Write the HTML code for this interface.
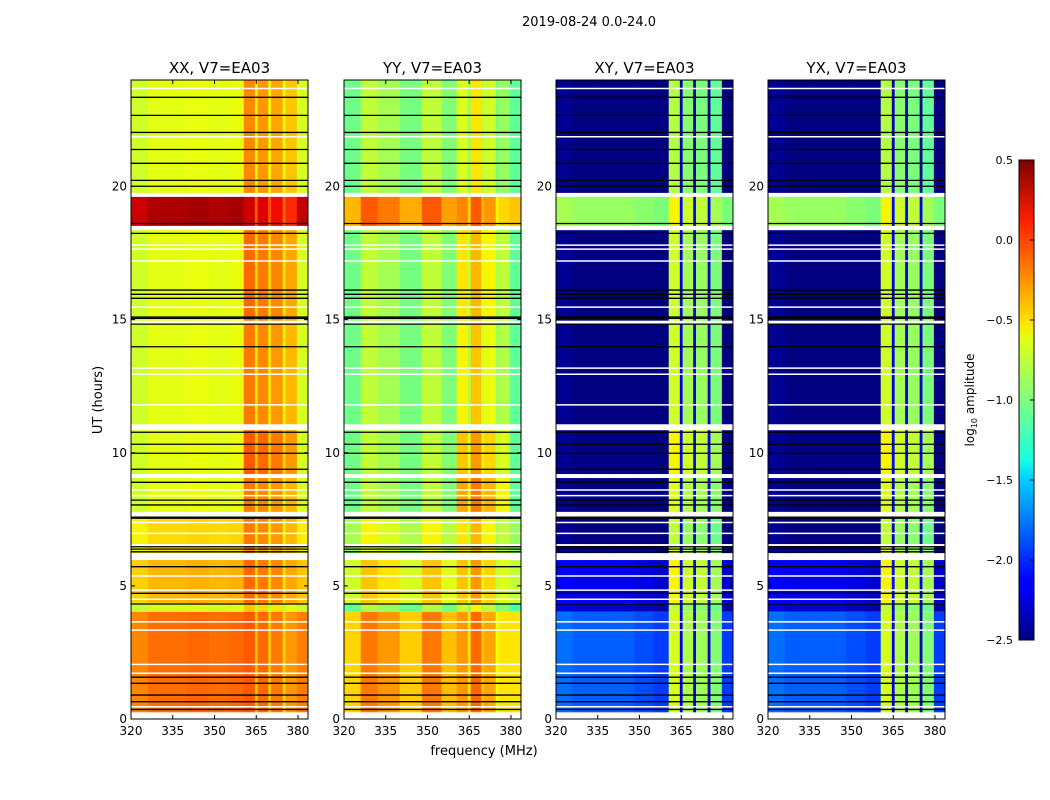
<!DOCTYPE html>
<html><head><meta charset="utf-8">
<style>
body{margin:0;background:#fff;}
svg{display:block;font-family:"DejaVu Sans","Liberation Sans",sans-serif;}
</style></head>
<body>
<svg id="fig" width="1050" height="800" viewBox="0 0 1050 800">
<defs>
<linearGradient id="jetgrad" x1="0" y1="1" x2="0" y2="0">
<stop offset="0" stop-color="#00007f"/><stop offset="0.11" stop-color="#0000ff"/>
<stop offset="0.125" stop-color="#0000ff"/><stop offset="0.34" stop-color="#00d4ff"/>
<stop offset="0.375" stop-color="#16ffe1"/><stop offset="0.5" stop-color="#7fff7f"/>
<stop offset="0.625" stop-color="#e1ff16"/><stop offset="0.66" stop-color="#ffe500"/>
<stop offset="0.875" stop-color="#ff1d00"/><stop offset="1" stop-color="#7f0000"/>
</linearGradient>
</defs>
<text x="589" y="26" font-size="13" text-anchor="middle">2019-08-24 0.0-24.0</text>
<text transform="translate(102,400) rotate(-90)" font-size="13" text-anchor="middle">UT (hours)</text>
<text x="484" y="755" font-size="13" text-anchor="middle">frequency (MHz)</text>
<g id="panels"></g>
<g>
<rect x="1019" y="160" width="15" height="480" fill="url(#jetgrad)" stroke="#000" stroke-width="1"/>
<g id="cbticks"></g>
<text transform="translate(974,400) rotate(-90)" font-size="12" text-anchor="middle">log<tspan font-size="8" dy="3">10</tspan><tspan dy="-3"> amplitude</tspan></text>
</g>
</svg>
<script>
// ---- data ----
const panelTitles = ["XX, V7=EA03","YY, V7=EA03","XY, V7=EA03","YX, V7=EA03"];
const freqEdges = [320,326,332,340,348,355,360.5,364.5,365.5,369.3,370.3,374.5,375.5,379.6,383.6];
const rfiBands = [6,7,8,9,10,11,12];
const segStart = [0.25,4.03,4.35,6.23,6.57,7.78,9.2,11.07,14.96,18.52,19.76];
const segEnd   = [4.03,4.35,5.97,6.5,7.55,9.05,10.85,14.83,18.36,19.61,24];
const lowXX = [-0.12,-0.66,-0.35,-0.5,-0.47,-0.62,-0.62,-0.62,-0.62,0.38,-0.62];
const rfiXX = [-0.05,-0.4,-0.1,-0.2,-0.15,-0.15,-0.05,-0.15,-0.1,0.3,-0.2];
const profXX = [-0.08,0,0,0.02,0,0.02, 0,-0.35,-0.05,-0.35,-0.1,-0.4,-0.2, -0.05];
const lowYY = [-0.3,-0.95,-0.55,-0.75,-0.7,-0.9,-0.9,-0.9,-0.9,-0.2,-0.9];
const rfiYY = [-0.1,-0.55,-0.25,-0.35,-0.35,-0.15,-0.25,-0.4,-0.35,-0.05,-0.5];
const profYY = [-0.15,0.15,0.05,-0.12,0.15,-0.08, -0.15,-0.4,0,-0.3,-0.2,-0.5,-0.4, -0.2];
const lowXY = [-1.85,-2.3,-2.2,-2.5,-2.5,-2.5,-2.5,-2.5,-2.5,-0.9,-2.5];
const rfiXY = [-0.72,-0.8,-0.6,-0.7,-0.8,-0.7,-0.6,-0.75,-0.75,-0.6,-0.85];
const profXY = [0.05,0,0,0,-0.05,-0.1, 0.05,-1.5,-0.1,-1.5,-0.15,-1.6,-0.25, -0.1];
const lowYX = [-1.85,-2.3,-2.2,-2.5,-2.5,-2.5,-2.5,-2.5,-2.5,-0.9,-2.5];
const rfiYX = [-0.72,-0.8,-0.6,-0.7,-0.8,-0.7,-0.6,-0.75,-0.75,-0.6,-0.85];
const profYX = [0.05,0,0,0,-0.05,-0.1, 0.05,-1.5,-0.1,-1.5,-0.15,-1.6,-0.25, -0.1];
const blackLines = [23.35,22.67,22.03,21.39,20.87,20.23,20.01,18.61,18.24,16.11,15.95,15.8,15.1,15.05,14.83,13.98,10.77,10.32,9.98,9.38,8.89,8.22,8.04,7.54,7.58,6.47,6.38,6.28,5.72,4.72,4.32,1.57,1.34,0.9,0.65,0.36];
const whiteLines = [23.68,21.87,17.8,17.65,17.2,15.47,13.18,12.95,11.8,10.88,8.6,8.39,7.38,6.97,5.37,4.84,4.5,3.65,3.34,2.05,1.72,0.46];
const xTicks = [320,335,350,365,380];
const yTicks = [0,5,10,15,20];
const cbTicks = [0.5,0.0,-0.5,-1.0,-1.5,-2.0,-2.5];
const cbLabels = ["0.5","0.0","\u22120.5","\u22121.0","\u22121.5","\u22122.0","\u22122.5"];

const panelLow = [lowXX,lowYY,lowXY,lowYX];
const panelRfi = [rfiXX,rfiYY,rfiXY,rfiYX];
const panelProf = [profXX,profYY,profXY,profYX];
const panelLeft = [131,344,556,768];
const PW = 177, TOP = 80, BOT = 719;
const F0 = 320, F1 = 383.6, T0 = 0, T1 = 24;
const NS = "http://www.w3.org/2000/svg";
function xs(p,f){return panelLeft[p] + (f-F0)/(F1-F0)*PW;}
function ys(t){return BOT - (t-T0)/(T1-T0)*(BOT-TOP);}
function cl(v){return Math.max(0,Math.min(1,v));}
const JR=[[0,0],[0.35,0],[0.66,1],[0.89,1],[1,0.5]];
const JG=[[0,0],[0.125,0],[0.375,1],[0.64,1],[0.91,0],[1,0]];
const JB=[[0,0.5],[0.11,1],[0.34,1],[0.65,0],[1,0]];
function seg(s,x){for(let i=1;i<s.length;i++){if(x<=s[i][0]){const a=s[i-1],b=s[i];return a[1]+(b[1]-a[1])*(x-a[0])/(b[0]-a[0]);}}return s[s.length-1][1];}
function jet(v){
  const x = cl((v+2.5)/3);
  return `rgb(${Math.round(seg(JR,x)*255)},${Math.round(seg(JG,x)*255)},${Math.round(seg(JB,x)*255)})`;
}
function mk(tag,attrs,parent){const e=document.createElementNS(NS,tag);for(const k in attrs)e.setAttribute(k,attrs[k]);parent.appendChild(e);return e;}

const root = document.getElementById('panels');
for(let p=0;p<4;p++){
  const g = mk('g',{},root);
  
  
  const L = panelLeft[p];
  const hm = mk('g',{},g);
  
  
  for(let s=0;s<segStart.length;s++){
    const y0 = ys(segEnd[s]), y1 = ys(segStart[s]);
    for(let b=0;b<freqEdges.length-1;b++){
      const isRfi = rfiBands.indexOf(b)>=0;
      const v = (isRfi ? panelRfi[p][s] : panelLow[p][s]) + panelProf[p][b];
      const xa = xs(p,freqEdges[b]), xb = xs(p,freqEdges[b+1]);
      const r = mk('rect',{x:xa.toFixed(2),y:y0.toFixed(2),width:(xb-xa+0.4).toFixed(2),height:(y1-y0).toFixed(2),fill:jet(v)},hm);
      
      
    }
  }
  for(const t of whiteLines){
    const l = mk('line',{x1:L,x2:L+PW,y1:ys(t),y2:ys(t),stroke:'#fff','stroke-width':1.5},g);
    
    
  }
  for(const t of blackLines){
    const l = mk('line',{x1:L,x2:L+PW,y1:ys(t),y2:ys(t),stroke:'#000','stroke-width':1.3},g);
    
    
  }
  const fr = mk('rect',{x:L,y:TOP,width:PW,height:BOT-TOP,fill:'none',stroke:'#000','stroke-width':1},g);
  
  
  const tt = mk('text',{x:L+PW/2,y:TOP-7,'font-size':15,'text-anchor':'middle'},g);
  tt.textContent = panelTitles[p];
  
  
  for(const f of xTicks){
    const x = xs(p,f);
    mk('line',{x1:x,x2:x,y1:BOT,y2:BOT-4,stroke:'#000'},g);
    mk('line',{x1:x,x2:x,y1:TOP,y2:TOP+4,stroke:'#000'},g);
    const tx = mk('text',{x:x,y:BOT+16,'font-size':12,'text-anchor':'middle'},g);
    tx.textContent = f;
    
    
  }
  for(const t of yTicks){
    const y = ys(t);
    mk('line',{x1:L,x2:L+4,y1:y,y2:y,stroke:'#000'},g);
    mk('line',{x1:L+PW,x2:L+PW-4,y1:y,y2:y,stroke:'#000'},g);
    const ty = mk('text',{x:L-4,y:y+4,'font-size':12,'text-anchor':'end'},g);
    ty.textContent = t;
    
    
  }
}
const cbg = document.getElementById('cbticks');
for(let i=0;i<cbTicks.length;i++){
  const y = 640 - (cbTicks[i]+2.5)/3*480;
  mk('line',{x1:1030,x2:1034,y1:y,y2:y,stroke:'#000'},cbg);
  const t = mk('text',{x:1013,y:y+4,'font-size':11,'text-anchor':'end'},cbg);
  t.textContent = cbLabels[i];
  
  
}
</script>
</body></html>
